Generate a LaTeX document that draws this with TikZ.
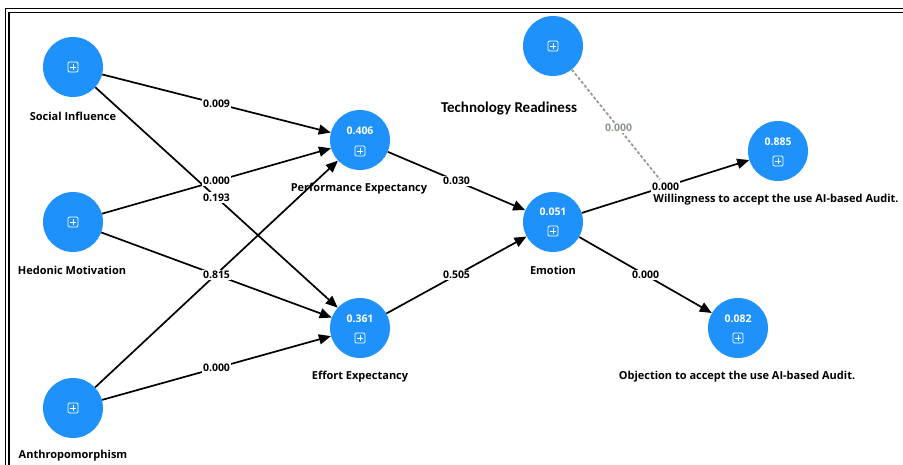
\documentclass[tikz,border=0pt]{standalone}
\usepackage{fontspec}
\setmainfont{Open Sans}
\newfontfamily\calfont{Carlito}
\usetikzlibrary{arrows.meta,calc}
\definecolor{plsblue}{RGB}{30,146,250}
\definecolor{modgray}{RGB}{140,152,140}
\definecolor{modline}{RGB}{150,156,150}
\begin{document}
\begin{tikzpicture}[x=1pt,y=-1pt,
  lv/.style={circle,fill=plsblue,minimum size=60pt,inner sep=0pt},
  nm/.style={font=\bfseries\fontsize{11}{13}\selectfont,text=black,inner sep=0pt},
  val/.style={font=\bfseries\fontsize{10.5}{12}\selectfont,text=white,inner sep=0pt},
  el/.style={font=\bfseries\fontsize{10.5}{12}\selectfont,fill=white,inner sep=1.2pt},
  gl/.style={font=\bfseries\fontsize{10.5}{12}\selectfont,text=modgray,fill=white,inner sep=1.2pt},
  arr/.style={draw,line width=1.7pt,-{Triangle[length=12pt,width=10pt]}},
  modpath/.style={draw=modline,line width=1.8pt,dash pattern=on 3pt off 2pt,shorten >=9pt},
  plusbox/.pic={
    \draw[white,line width=0.9pt,rounded corners=1.3pt] (-5,-5) rectangle (5,5);
    \draw[white,line width=0.9pt] (-3,0) -- (3,0) (0,-3) -- (0,3);
  }]
\useasboundingbox (0,0) rectangle (903,465);
\fill[white] (0,0) rectangle (903,465);
% frame
\draw[line width=1.3pt] (5.5,465) -- (5.5,8.5) -- (903,8.5);
\draw[line width=1.3pt] (9,465) -- (9,12.5) -- (903,12.5);
% latent variables
\node[lv] (SI) at (73,67) {};
\node[lv] (HM) at (73,222) {};
\node[lv] (AN) at (73,408) {};
\node[lv] (PE) at (360,140) {};
\node[lv] (EE) at (360,328) {};
\node[lv] (EM) at (553,222) {};
\node[lv] (TR) at (553,46) {};
\node[lv] (WA) at (778,151) {};
\node[lv] (OA) at (738,328) {};
% icons
\pic at (73,67) {plusbox};
\pic at (73,222) {plusbox};
\pic at (73,408) {plusbox};
\pic at (553,46) {plusbox};
\pic at (360,151) {plusbox};
\pic at (360,338) {plusbox};
\pic at (553,231) {plusbox};
\pic at (778,161) {plusbox};
\pic at (738,338) {plusbox};
% R2 values
\node[val] (PEv) at (360,131) {0.406};
\node[val] (EEv) at (360,319) {0.361};
\node[val] (EMv) at (553,212) {0.051};
\node[val] (WAv) at (778,142) {0.885};
\node[val] (OAv) at (738,319) {0.082};
% names
\node[nm] (SIl) at (73,116) {Social Influence};
\node[nm] (HMl) at (72,270) {Hedonic Motivation};
\node[nm] (ANl) at (73,456) {Anthropomorphism};
\node[nm] (PEl) at (359,189) {Performance Expectancy};
\node[nm] (EEl) at (360,377) {Effort Expectancy};
\node[nm] (EMl) at (553,270) {Emotion};
\node[font=\calfont\bfseries\fontsize{15}{17}\selectfont,inner sep=0pt] (TRl) at (509,109) {Technology Readiness};
\node[nm] (WAl) at (776,200) {Willingness to accept the use AI-based Audit.};
\node[nm] (OAl) at (737,377) {Objection to accept the use AI-based Audit.};
% moderating effect
\coordinate (mod) at ($(EM)!0.5!(WA)$);
\draw[modpath] (TR) -- node[gl,pos=0.5] (TRv) {0.000} (mod);
% paths
\draw[arr] (SI) -- node[el] (l1) {0.009} (PE);
\draw[arr] (SI) -- node[el] (l2) {0.193} (EE);
\draw[arr] (AN) -- (PE);
\draw[arr] (HM) -- node[el] (l3) {0.000} (PE);
\draw[arr] (HM) -- node[el] (l4) {0.815} (EE);
\draw[arr] (AN) -- node[el] (l5) {0.000} (EE);
\draw[arr] (PE) -- node[el] (l6) {0.030} (EM);
\draw[arr] (EE) -- node[el] (l7) {0.505} (EM);
\draw[arr] (EM) -- node[el] (l8) {0.000} (WA);
\draw[arr] (EM) -- node[el] (l9) {0.000} (OA);
\end{tikzpicture}
\end{document}
